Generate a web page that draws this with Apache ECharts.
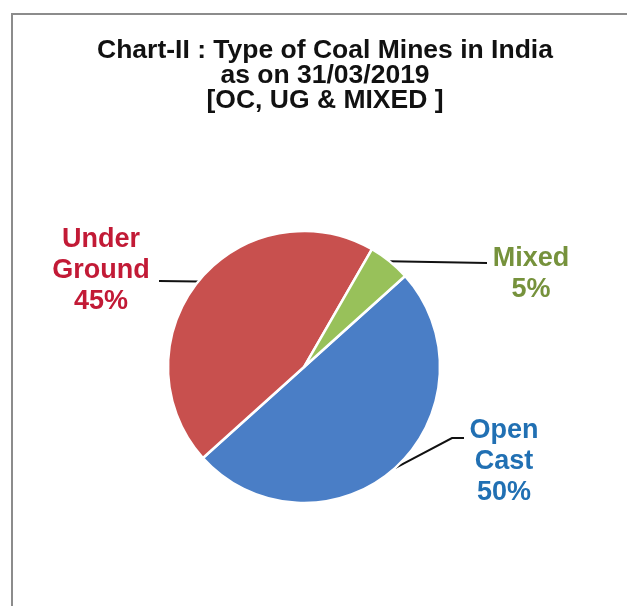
<!DOCTYPE html>
<html>
<head>
<meta charset="utf-8">
<script src="https://cdn.jsdelivr.net/npm/echarts@6/dist/echarts.min.js"></script>
<style>
html,body{margin:0;padding:0;background:#fff;}
#chart{width:627px;height:606px;}
</style>
</head>
<body>
<div id="chart"></div>
<script>
// Data
var categories = ['Open Cast', 'Under Ground', 'Mixed'];
var shares = [50, 45, 5];
var sliceColors = ['#4a7ec6', '#c8504e', '#98c15a'];
var labelColors = ['#2170b3', '#c21a36', '#76923c'];
var titleText = 'Chart-II : Type of Coal Mines in India\nas on 31/03/2019\n[OC, UG & MIXED ]';

// label placement (layout only)
var labelCenters = [[504, 462], [101, 271], [531, 274]];
var lineEnds = [[[452, 438], [464, 438]], [[159, 281], [159, 281]], [[487, 263], [487, 263]]];

var chart = echarts.init(document.getElementById('chart'), null, {renderer: 'canvas'});
var dataItems = categories.map(function (c, i) {
  return {
    name: c,
    value: shares[i],
    itemStyle: {color: sliceColors[i]},
    label: {color: labelColors[i]}
  };
});

chart.setOption({
  backgroundColor: '#ffffff',
  animation: false,
  graphic: [{
    type: 'rect',
    shape: {x: 12, y: 14, width: 640, height: 700},
    style: {fill: 'none', stroke: '#8c8c8c', lineWidth: 2},
    silent: true
  }],
  title: {
    text: titleText,
    left: 320,
    top: 33,
    textAlign: 'center',
    textStyle: {
      fontFamily: 'Liberation Sans, Arial, sans-serif',
      fontWeight: 'bold',
      fontSize: 26.5,
      lineHeight: 25,
      color: '#111111'
    }
  },
  series: [{
    type: 'pie',
    center: [304, 367],
    radius: 136,
    startAngle: 42,
    clockwise: true,
    data: dataItems,
    itemStyle: {borderColor: '#ffffff', borderWidth: 2.5},
    label: {
      show: true,
      position: 'outside',
      formatter: function (p) { return p.name.replace(' ', '\n') + '\n' + Math.round(p.percent) + '%'; },
      fontFamily: 'Liberation Sans, Arial, sans-serif',
      fontWeight: 'bold',
      fontSize: 27,
      lineHeight: 31,
      align: 'center'
    },
    labelLine: {show: true, lineStyle: {color: '#111111', width: 2}},
    labelLayout: function (params) {
      var i = params.dataIndex;
      var p0 = params.labelLinePoints ? params.labelLinePoints[0] : [0, 0];
      return {
        x: labelCenters[i][0],
        y: labelCenters[i][1],
        align: 'center',
        verticalAlign: 'middle',
        labelLinePoints: [p0, lineEnds[i][0], lineEnds[i][1]]
      };
    },
    emphasis: {disabled: true}
  }]
});
</script>
</body>
</html>
